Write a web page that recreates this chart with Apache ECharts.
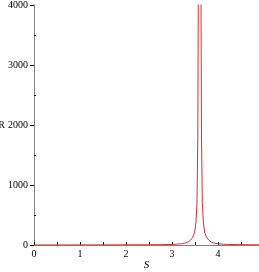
<!DOCTYPE html>
<html><head><meta charset="utf-8">
<script src="https://cdn.jsdelivr.net/npm/echarts@6/dist/echarts.min.js"></script>
<style>html,body{margin:0;padding:0;background:#fff}#c{width:259px;height:272px}</style>
</head><body><div id="c"></div>
<script>
const sValues = [0, 0.5, 1, 1.5, 2, 2.5, 2.8, 3.0, 3.1, 3.2, 3.3, 3.35, 3.4, 3.45, 3.49, 3.52, 3.542, 3.56, 3.57, 3.58, 3.59, 3.6, 3.61, 3.62, 3.63, 3.64, 3.658, 3.68, 3.71, 3.75, 3.8, 3.85, 3.9, 4.0, 4.1, 4.2, 4.5, 4.9];
const rValues = [1, 1, 2, 2, 3, 4, 6, 10, 14, 20, 35, 50, 80, 130, 205, 380, 705, 1800, 4000, 8000, 15000, 20000, 15000, 8000, 4000, 1800, 705, 380, 205, 130, 80, 50, 35, 20, 14, 10, 5, 3];
const xLabels = [0, 1, 2, 3, 4];
const yLabels = [0, 1000, 2000, 3000, 4000];

const chart = echarts.init(document.getElementById('c'));
const font = {fontFamily: 'Liberation Serif', fontSize: 10, color: '#000'};
chart.setOption({
  animation: false,
  grid: {left: 34, right: 0, top: 5, bottom: 27, containLabel: false, outerBoundsMode: 'none'},
  xAxis: {
    type: 'value', min: 0, max: 4.89,
    name: 'S', nameLocation: 'middle', nameGap: 15, nameMoveOverlap: false,
    nameTextStyle: {fontFamily: 'Liberation Serif', fontStyle: 'italic', fontSize: 11, color: '#000'},
    axisLine: {lineStyle: {color: '#808080'}},
    axisTick: {inside: true, length: 3, customValues: [0,0.5,1,1.5,2,2.5,3,3.5,4,4.5], lineStyle: {color: '#000'}},
    axisLabel: Object.assign({customValues: xLabels, margin: 4, formatter: v => String(v)}, font),
    splitLine: {show: false}
  },
  yAxis: [{
    type: 'value', min: 0, max: 4000,
    name: 'R', nameLocation: 'middle', nameGap: 29, nameRotate: 0, nameMoveOverlap: false,
    nameTextStyle: {fontFamily: 'Liberation Serif', fontSize: 10, color: '#000'},
    axisLine: {show: true, lineStyle: {color: '#808080'}},
    axisTick: {length: 4, customValues: yLabels, lineStyle: {color: '#000'}},
    axisLabel: Object.assign({customValues: yLabels, margin: 6, formatter: v => String(v)}, font),
    splitLine: {show: false}
  }, {
    type: 'value', min: 0, max: 4000, position: 'left',
    axisLine: {show: false},
    axisTick: {show: true, inside: true, length: 2, customValues: [500,1500,2500,3500], lineStyle: {color: '#000'}},
    axisLabel: {show: false},
    splitLine: {show: false}
  }],
  series: [{
    type: 'line', symbol: 'none', clip: true,
    data: sValues.map((s, i) => [s, rValues[i]]),
    lineStyle: {color: '#d83030', width: 1}
  }]
});
</script></body></html>
